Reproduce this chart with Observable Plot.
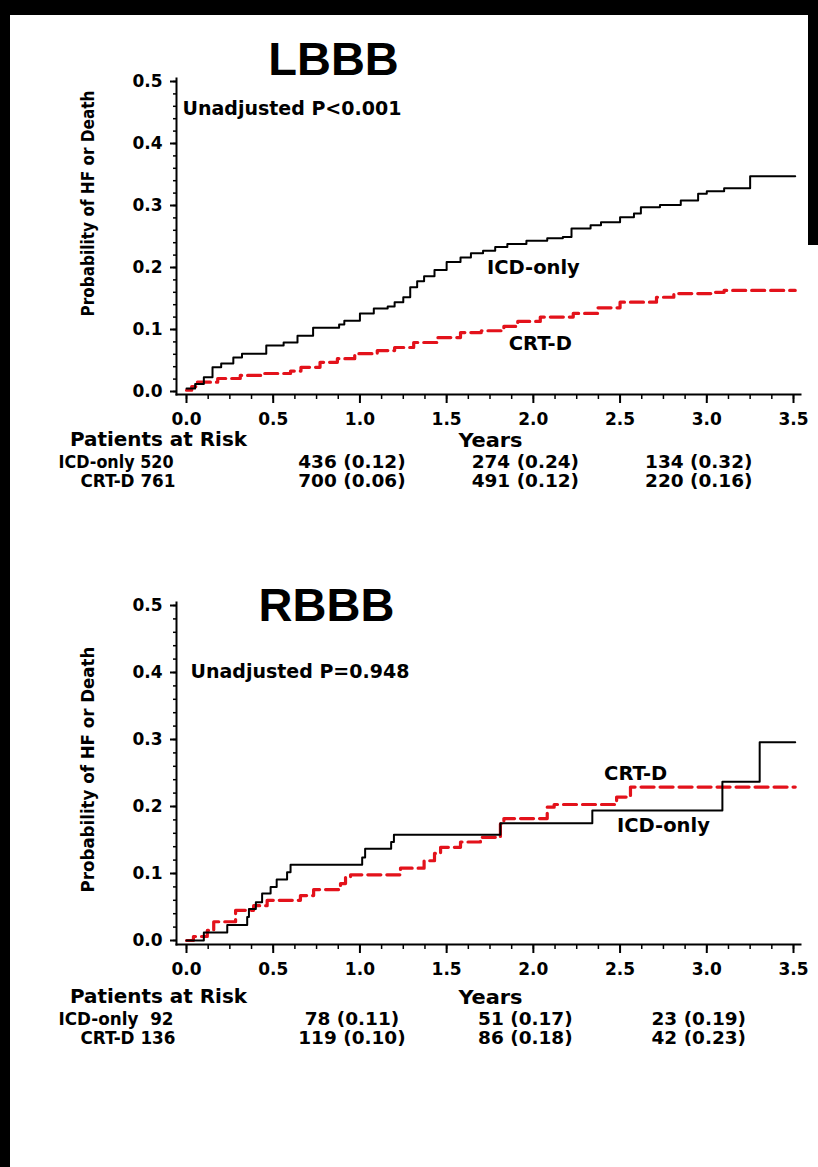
<!DOCTYPE html>
<html><head><meta charset="utf-8">
<script src="https://cdn.jsdelivr.net/npm/d3@7"></script>
<script src="https://cdn.jsdelivr.net/npm/@observablehq/plot@0.6"></script>
<style>
html,body{margin:0;padding:0;background:#fff;}
#page{position:relative;width:818px;height:1167px;overflow:hidden;background:#fff;}
.band{position:absolute;background:#000;}
.panel{position:absolute;left:0;}
.panel text{white-space:pre;}
</style></head><body>
<div id="page">
  <div id="p1" class="panel" style="top:0px"></div>
  <div id="p2" class="panel" style="top:530px"></div>
  <div class="band" style="left:0;top:0;width:818px;height:15px"></div>
  <div class="band" style="left:0;top:0;width:10px;height:1167px"></div>
  <div class="band" style="left:808px;top:0;width:10px;height:245px"></div>
</div>
<script>
// ---------- data ----------
const titles = ["LBBB", "RBBB"];
const pValues = ["Unadjusted P<0.001", "Unadjusted P=0.948"];
const xTicks = [0, 0.5, 1, 1.5, 2, 2.5, 3, 3.5];
const yTicks = [0, 0.1, 0.2, 0.3, 0.4, 0.5];
const riskYears = [1, 2, 3];
const groups = ["ICD-only", "CRT-D"];

// [years, cumulative probability]
const lbbbIcd = [[0,0.005],[0.05,0.012],[0.1,0.023],[0.15,0.039],[0.2,0.045],[0.27,0.055],[0.32,0.061],[0.46,0.074],[0.56,0.079],[0.64,0.09],[0.73,0.103],[0.88,0.108],[0.91,0.114],[1.0,0.126],[1.08,0.134],[1.16,0.137],[1.2,0.144],[1.25,0.152],[1.29,0.168],[1.33,0.178],[1.37,0.186],[1.43,0.196],[1.5,0.209],[1.58,0.216],[1.64,0.223],[1.71,0.227],[1.78,0.233],[1.85,0.238],[1.96,0.243],[2.08,0.247],[2.17,0.249],[2.22,0.263],[2.33,0.268],[2.39,0.273],[2.5,0.281],[2.58,0.287],[2.62,0.297],[2.73,0.301],[2.85,0.308],[2.95,0.319],[3.0,0.323],[3.1,0.328],[3.25,0.347],[3.51,0.347]];
const lbbbCrt = [[0,0.002],[0.03,0.008],[0.06,0.015],[0.18,0.021],[0.31,0.026],[0.43,0.029],[0.6,0.033],[0.66,0.039],[0.77,0.047],[0.87,0.053],[0.97,0.061],[1.1,0.066],[1.2,0.071],[1.31,0.079],[1.45,0.087],[1.58,0.095],[1.7,0.098],[1.83,0.105],[1.91,0.113],[2.04,0.12],[2.23,0.126],[2.37,0.135],[2.5,0.144],[2.71,0.152],[2.81,0.158],[3.04,0.16],[3.1,0.163],[3.51,0.163]];
const rbbbIcd = [[0,0],[0.1,0.012],[0.235,0.023],[0.35,0.035],[0.36,0.047],[0.40,0.057],[0.436,0.07],[0.485,0.08],[0.52,0.091],[0.58,0.102],[0.6,0.113],[1.013,0.124],[1.03,0.137],[1.18,0.147],[1.196,0.158],[1.81,0.175],[2.34,0.194],[3.09,0.237],[3.305,0.296],[3.51,0.296]];
const rbbbCrt = [[0,0],[0.04,0.006],[0.12,0.015],[0.157,0.028],[0.283,0.045],[0.387,0.052],[0.465,0.06],[0.657,0.067],[0.733,0.076],[0.888,0.085],[0.917,0.094],[0.946,0.098],[1.234,0.108],[1.37,0.119],[1.43,0.13],[1.465,0.139],[1.58,0.147],[1.695,0.154],[1.81,0.174],[1.83,0.182],[2.08,0.199],[2.12,0.203],[2.48,0.214],[2.56,0.229],[3.51,0.229]];

// curve label positions [years, probability] for ICD-only, CRT-D
const lbbbLabelPos = [[2.0, 0.2], [2.04, 0.077]];
const rbbbLabelPos = [[2.75, 0.172], [2.59, 0.249]];

// patients at risk at 0,1,2,3 years and cumulative probability at 1,2,3 years
const lbbbAtRiskIcd = [520, 436, 274, 134];
const lbbbAtRiskCrt = [761, 700, 491, 220];
const lbbbCumIcd = [0.12, 0.24, 0.32];
const lbbbCumCrt = [0.06, 0.12, 0.16];
const rbbbAtRiskIcd = [92, 78, 51, 23];
const rbbbAtRiskCrt = [136, 119, 86, 42];
const rbbbCumIcd = [0.11, 0.17, 0.19];
const rbbbCumCrt = [0.10, 0.18, 0.23];

// ---------- drawing ----------
const BOLD = "'DejaVu Sans', Verdana, sans-serif";
const NARROW = "'DejaVu Sans Condensed', 'Liberation Sans Narrow', 'Liberation Sans', sans-serif";
const TITLE = "'Liberation Sans', Arial, sans-serif";
const RED = "#e3121b";
const toPts = arr => arr.map(([t, p]) => ({t, p}));

function panel(cfg) {
  const icd = toPts(cfg.icd), crt = toPts(cfg.crt);
  const rows = [
    {name: groups[0], n: cfg.riskIcd, c: cfg.cumIcd},
    {name: groups[1], n: cfg.riskCrt, c: cfg.cumCrt}
  ];
  const rowLabels = rows.map((r, i) => ({row: i, t: 0, label: `${r.name} ${String(r.n[0]).padStart(3, " ")}`}));
  const cells = [];
  rows.forEach((r, i) => riskYears.forEach((yr, j) => cells.push({row: i, t: yr, label: `${r.n[j + 1]} (${r.c[j].toFixed(2)})`})));
  const curveLabels = [
    {t: cfg.labelPos[0][0], p: cfg.labelPos[0][1], label: groups[0]},
    {t: cfg.labelPos[1][0], p: cfg.labelPos[1][1], label: groups[1]}
  ];
  const minorX = d3.range(0, 3.5001, 0.125);
  const minorY = d3.range(0, 0.5001, 0.02);
  const nar = {fontSize: 20, fontFamily: NARROW, fontWeight: "bold", lineAnchor: "middle"};
  const row = {...nar, fontSize: 18};
  return Plot.plot({
    width: 818,
    height: cfg.height,
    marginTop: cfg.mTop, marginBottom: cfg.mBottom,
    marginLeft: 176, marginRight: 18,
    insetLeft: 10, insetRight: 7, insetTop: cfg.inTop, insetBottom: cfg.inBottom,
    style: {fontFamily: BOLD, fontWeight: "bold", fontSize: "17px", color: "#000", background: "transparent"},
    x: {domain: [0, 3.5]},
    y: {domain: [0, 0.5]},
    marks: [
      Plot.frame({anchor: "left", stroke: "#000", strokeWidth: 2}),
      Plot.frame({anchor: "bottom", stroke: "#000", strokeWidth: 2}),
      Plot.axisY({ticks: minorY, tickSize: 3, tickFormat: () => "", strokeWidth: 1.5, label: null}),
      Plot.axisY({ticks: yTicks, tickSize: 6, tickPadding: 8, tickFormat: d3.format(".1f"), strokeWidth: 2, label: null, fontSize: 17}),
      Plot.axisX({ticks: minorX, tickSize: 5, tickFormat: () => "", strokeWidth: 1.5, label: null}),
      Plot.axisX({ticks: xTicks, tickSize: 9, tickPadding: cfg.xPad, tickFormat: d3.format(".1f"), strokeWidth: 2, label: null, fontSize: 17}),
      Plot.line(crt, {x: "t", y: "p", curve: "step-after", stroke: RED, strokeWidth: 3.2, strokeDasharray: "13,6"}),
      Plot.line(icd, {x: "t", y: "p", curve: "step-after", stroke: "#000", strokeWidth: 2}),
      Plot.text(curveLabels, {x: "t", y: "p", text: "label", fontSize: 19.5, fontFamily: BOLD, fontWeight: "bold"}),
      Plot.text([cfg.title], {frameAnchor: "top-left", dx: cfg.titleDx, dy: cfg.titleDy, fontSize: 47, fontFamily: TITLE, fontWeight: "bold", textAnchor: "middle", lineAnchor: "middle"}),
      Plot.text([cfg.pText], {frameAnchor: "top-left", dx: cfg.pDx, dy: cfg.pDy, fontSize: 19, textAnchor: "start", lineAnchor: "middle"}),
      Plot.text(["Probability of HF or Death"], {frameAnchor: "left", rotate: -90, dx: -88, dy: cfg.ylabDy, fontSize: cfg.ylabSize, fontFamily: NARROW, fontWeight: "bold", textAnchor: "middle", lineAnchor: "middle"}),
      Plot.text(["Patients at Risk"], {frameAnchor: "bottom-left", dx: -18, dy: cfg.parDy, textAnchor: "middle", ...nar}),
      Plot.text(["Years"], {frameAnchor: "bottom", dx: 2, dy: cfg.yearsDy, textAnchor: "middle", ...nar}),
      Plot.text(rowLabels.filter(d => d.row === 0), {x: "t", text: "label", frameAnchor: "bottom", dx: -13, dy: cfg.row0Dy, textAnchor: "end", ...row}),
      Plot.text(rowLabels.filter(d => d.row === 1), {x: "t", text: "label", frameAnchor: "bottom", dx: -11, dy: cfg.row1Dy, textAnchor: "end", ...row}),
      Plot.text(cells.filter(d => d.row === 0), {x: "t", text: "label", frameAnchor: "bottom", dx: -8, dy: cfg.row0Dy, textAnchor: "middle", ...row}),
      Plot.text(cells.filter(d => d.row === 1), {x: "t", text: "label", frameAnchor: "bottom", dx: -8, dy: cfg.row1Dy, textAnchor: "middle", ...row})
    ]
  });
}

// stretch / squeeze the condensed risk-table labels to the reference widths
function fitWidths(svg) {
  svg.querySelectorAll("text").forEach(t => {
    const s = t.textContent;
    let w = null;
    if (s === "Patients at Risk") w = 177;
    else if (s === "Years") w = 64;
    else if (/^ICD-only\s+\d+$/.test(s)) w = 115;
    else if (/^CRT-D\s+\d+$/.test(s)) w = 95;
    else if (/^\d+ \(\d\.\d\d\)$/.test(s)) w = t.getComputedTextLength() * 1.14;
    if (w) { t.setAttribute("textLength", w); t.setAttribute("lengthAdjust", "spacingAndGlyphs"); }
  });
}

const svg1 = panel({
  title: titles[0], pText: pValues[0], icd: lbbbIcd, crt: lbbbCrt, labelPos: lbbbLabelPos,
  riskIcd: lbbbAtRiskIcd, riskCrt: lbbbAtRiskCrt, cumIcd: lbbbCumIcd, cumCrt: lbbbCumCrt,
  height: 500, mTop: 78, mBottom: 106, inTop: 3, inBottom: 3, xPad: 9,
  titleDx: 157, titleDy: -19, pDx: 6, pDy: 30, ylabDy: -33, ylabSize: 17,
  parDy: 45, yearsDy: 46, row0Dy: 68, row1Dy: 87
});
document.getElementById("p1").append(svg1);
fitWidths(svg1);
const svg2 = panel({
  title: titles[1], pText: pValues[1], icd: rbbbIcd, crt: rbbbCrt, labelPos: rbbbLabelPos,
  riskIcd: rbbbAtRiskIcd, riskCrt: rbbbAtRiskCrt, cumIcd: rbbbCumIcd, cumCrt: rbbbCumCrt,
  height: 530, mTop: 72, mBottom: 116, inTop: 3, inBottom: 4, xPad: 9,
  titleDx: 150, titleDy: 3, pDx: 14, pDy: 69, ylabDy: -4, ylabSize: 18.5,
  parDy: 52, yearsDy: 53, row0Dy: 75, row1Dy: 94
});
document.getElementById("p2").append(svg2);
fitWidths(svg2);
</script>
</body></html>
